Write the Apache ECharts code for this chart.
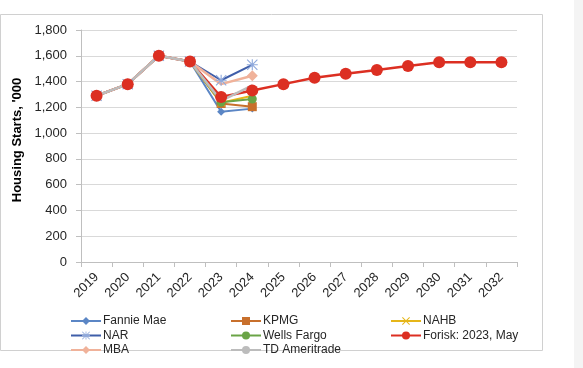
<!DOCTYPE html>
<html>
<head>
<meta charset="utf-8">
<script src="https://cdn.jsdelivr.net/npm/echarts@6/dist/echarts.min.js"></script>
<style>
html,body{margin:0;padding:0;background:#fff;}
#chart{width:583px;height:368px;}
</style>
</head>
<body>
<div id="chart"></div>
<script>
var years = ['2019','2020','2021','2022','2023','2024','2025','2026','2027','2028','2029','2030','2031','2032'];
var yTicks = [0,200,400,600,800,1000,1200,1400,1600,1800];
var actualStarts = [1290, 1380, 1600, 1555];
var fannieMae   = [1165, 1190];
var kpmg        = [1230, 1205];
var nahb        = [1235, 1290];
var nar         = [1410, 1530];
var wellsFargo  = [1240, 1265];
var mba         = [1380, 1445];
var tdAmeritrade= [1250, 1370];
var forisk = [1290, 1380, 1600, 1555, 1280, 1330, 1380, 1430, 1460, 1490, 1520, 1550, 1550, 1550];

function fc(v, lastOnly){
  var arr = actualStarts.concat(v);
  if (lastOnly) {
    arr = arr.map(function(val, i){
      return i === arr.length - 1 ? val : {value: val, symbol: 'none'};
    });
  }
  while (arr.length < years.length) arr.push(null);
  return arr;
}

var xPath = 'path://M0,0.9L0.9,0L5,4.1L9.1,0L10,0.9L5.9,5L10,9.1L9.1,10L5,5.9L0.9,10L0,9.1L4.1,5Z';
var starPath = 'path://M4.5,0H5.5V4.5H10V5.5H5.5V10H4.5V5.5H0V4.5H4.5Z M0,0.7L0.7,0L5,4.3L9.3,0L10,0.7L5.7,5L10,9.3L9.3,10L5,5.7L0.7,10L0,9.3L4.3,5Z';

function ser(name, data, color, symbol, size, width, extra){
  var s = {
    name: name, type: 'line', data: data,
    symbol: symbol, symbolSize: size,
    showSymbol: symbol !== 'none',
    lineStyle: {color: color, width: width},
    itemStyle: {color: color},
    connectNulls: false,
    animation: false
  };
  if (extra) for (var k in extra) s[k] = extra[k];
  return s;
}

var series = [
  ser('Fannie Mae', fc(fannieMae), '#5b86c5', 'diamond', 8, 2),
  ser('KPMG', fc(kpmg), '#c8702c', 'rect', 9, 2),
  ser('NAHB', fc(nahb), '#e6b619', xPath, 8, 2),
  ser('NAR', fc(nar), '#3f5ea9', starPath, 11, 2, {itemStyle:{color:'#8fa9dc'}}),
  ser('Wells Fargo', fc(wellsFargo), '#6aa446', 'circle', 9, 2),
  ser('Forisk: 2023, May', forisk, '#dc2f22', 'circle', 12, 2.5),
  ser('MBA', fc(mba, true), '#f0b29a', 'diamond', 11, 2.5),
  ser('TD Ameritrade', fc(tdAmeritrade), '#bcbcbc', 'none', 0, 2.5)
];

function legendCol(names, left){
  return {
    data: names, orient: 'vertical', left: left, top: 310,
    itemWidth: 30, itemHeight: 10, itemGap: 2.5,
    textStyle: {fontFamily: 'Liberation Sans', fontSize: 12, color: '#262626', padding: [0,0,0,-3]}
  };
}

var option = {
  backgroundColor: '#ffffff',
  animation: false,
  grid: {left: 81, right: 66, top: 30, bottom: 106, outerBoundsMode: 'none', containLabel: false},
  legend: [
    legendCol(['Fannie Mae','NAR','MBA'], 65),
    legendCol(['KPMG','Wells Fargo','TD Ameritrade'], 225),
    legendCol(['NAHB','Forisk: 2023, May'], 385)
  ],
  xAxis: {
    type: 'category', data: years, boundaryGap: true,
    axisLine: {lineStyle: {color: '#bfbfbf', width: 1}},
    axisTick: {show: true, length: 5, interval: 0, lineStyle: {color: '#bfbfbf'}},
    axisLabel: {rotate: 45, interval: 0, margin: 13, fontFamily: 'Liberation Sans', fontSize: 13, color: '#262626'},
    splitLine: {show: false}
  },
  yAxis: {
    type: 'value', min: yTicks[0], max: yTicks[yTicks.length-1], interval: 200,
    name: "Housing Starts, '000", nameLocation: 'middle', nameGap: 52,
    nameTextStyle: {fontFamily: 'Liberation Sans', fontSize: 13, fontWeight: 'bold', color: '#000', padding: [0,0,0,12]},
    axisLine: {show: true, lineStyle: {color: '#bfbfbf'}},
    axisTick: {show: true, length: 5, lineStyle: {color: '#bfbfbf'}},
    axisLabel: {margin: 14, fontFamily: 'Liberation Sans', fontSize: 13, color: '#262626',
      formatter: function(v){ return v.toLocaleString('en-US'); }},
    splitLine: {lineStyle: {color: '#d9d9d9', width: 1}}
  },
  graphic: [
    {type: 'rect', shape: {x: 0.5, y: 14.5, width: 542, height: 336}, style: {fill: 'none', stroke: '#d0d0d0', lineWidth: 1}, silent: true, z: -1},
    {type: 'rect', shape: {x: 574, y: 0, width: 9, height: 368}, style: {fill: '#f4f4f4'}, silent: true, z: -1}
  ],
  series: series
};

var chart = echarts.init(document.getElementById('chart'), null, {renderer: 'canvas'});
chart.setOption(option);
</script>
</body>
</html>
